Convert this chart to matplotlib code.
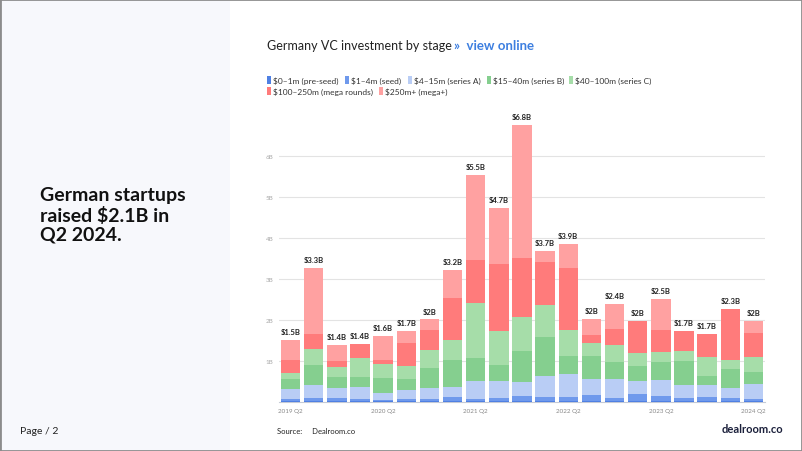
import numpy as np
import matplotlib.pyplot as plt
from matplotlib.patches import Rectangle

# quarters 2019 Q2 .. 2024 Q2
quarters = ['2019 Q2', '2019 Q3', '2019 Q4', '2020 Q1', '2020 Q2', '2020 Q3', '2020 Q4',
            '2021 Q1', '2021 Q2', '2021 Q3', '2021 Q4', '2022 Q1', '2022 Q2', '2022 Q3',
            '2022 Q4', '2023 Q1', '2023 Q2', '2023 Q3', '2023 Q4', '2024 Q1', '2024 Q2']
tick_idx = [0, 4, 8, 12, 16, 20]

# values in $B per stage
pre_seed = [0.02, 0.02, 0.02, 0.02, 0.02, 0.02, 0.02, 0.02, 0.02, 0.02, 0.03,
            0.02, 0.02, 0.03, 0.02, 0.03, 0.03, 0.02, 0.02, 0.02, 0.02]
seed = [0.05, 0.07, 0.08, 0.05, 0.04, 0.05, 0.06, 0.10, 0.06, 0.07, 0.11,
        0.09, 0.10, 0.13, 0.08, 0.16, 0.12, 0.07, 0.09, 0.07, 0.05]
series_a = [0.25, 0.33, 0.24, 0.29, 0.16, 0.23, 0.26, 0.25, 0.42, 0.41, 0.35,
            0.53, 0.57, 0.40, 0.46, 0.33, 0.39, 0.33, 0.30, 0.26, 0.38]
series_b = [0.24, 0.47, 0.26, 0.25, 0.37, 0.26, 0.49, 0.66, 0.57, 0.39, 0.76,
            0.94, 0.44, 0.55, 0.41, 0.35, 0.44, 0.59, 0.23, 0.45, 0.29]
series_c = [0.15, 0.41, 0.25, 0.45, 0.34, 0.31, 0.43, 0.47, 1.34, 0.83, 0.82,
            0.79, 0.62, 0.32, 0.43, 0.33, 0.23, 0.24, 0.46, 0.23, 0.36]
mega = [0.32, 0.35, 0.14, 0.35, 0.10, 0.56, 0.49, 1.03, 1.05, 1.65, 1.45,
        1.04, 1.52, 0.20, 0.39, 0.77, 0.55, 0.47, 0.56, 1.23, 0.59]
mega_plus = [0.49, 1.61, 0.40, 0.00, 0.58, 0.29, 0.26, 0.69, 2.07, 1.35, 3.24,
             0.26, 0.58, 0.40, 0.59, 0.00, 0.74, 0.00, 0.00, 0.00, 0.29]
totals_lbl = ['$1.5B', '$3.3B', '$1.4B', '$1.4B', '$1.6B', '$1.7B', '$2B', '$3.2B',
              '$5.5B', '$4.7B', '$6.8B', '$3.7B', '$3.9B', '$2B', '$2.4B', '$2B',
              '$2.5B', '$1.7B', '$1.7B', '$2.3B', '$2B']

stage_names = ['$0–1m (pre-seed)', '$1–4m (seed)', '$4–15m (series A)', '$15–40m (series B)',
               '$40–100m (series C)', '$100–250m (mega rounds)', '$250m+ (mega+)']
stage_colors = ['#4f80e3', '#6f99ec', '#b9cdf5', '#85cf8f', '#a6dda9', '#ff7b7b', '#ffa1a1']
stages = [pre_seed, seed, series_a, series_b, series_c, mega, mega_plus]

W, H = 802, 452
fig = plt.figure(figsize=(W / 100, H / 100), dpi=100)
fig.patch.set_facecolor('white')

# left panel + frame
fig.patches.append(Rectangle((0, 0), 230 / W, 1, transform=fig.transFigure,
                             facecolor='#f7f8fc', edgecolor='none', zorder=0))
fig.patches.append(Rectangle((0, 0), 1, 1, transform=fig.transFigure, fill=False,
                             edgecolor='#8c8c8c', linewidth=2, zorder=10))

font = 'Lato'

def fx(px):
    return px / W

def fy(py):
    return 1 - py / H

fig.text(fx(40), fy(187), 'German startups\nraised $2.1B in\nQ2 2024.', fontsize=14,
         fontweight='bold', family=font, color='#111111', va='top', ha='left', linespacing=1.17)
fig.text(fx(20), fy(432), 'Page / 2', fontsize=7.5, family=font, color='#222222', va='center')
fig.text(fx(277), fy(432), 'Source:     Dealroom.co', fontsize=5.5, family=font,
         color='#222222', va='center')
fig.text(fx(783), fy(430), 'dealroom.co', fontsize=8, family=font, fontweight='bold',
         color='#1a1f3a', va='center', ha='right')

# title
fig.text(fx(267), fy(46), 'Germany VC investment by stage', fontsize=9, family=font,
         color='#222222', va='center')
fig.text(fx(454), fy(46), '»  view online', fontsize=9.5, family=font, fontweight='bold',
         color='#3d7fe0', va='center')

# legend
leg_pos = [(267, 81), (345, 81), (408, 81), (487, 81), (569, 81), (267, 92), (379, 92)]
for (px, py), name, c in zip(leg_pos, stage_names, stage_colors):
    fig.patches.append(Rectangle((fx(px), fy(py + 4)), 4 / W, 8 / H,
                                 transform=fig.transFigure, facecolor=c, edgecolor='none'))
    fig.text(fx(px + 6), fy(py), name, fontsize=6, family=font, color='#333333', va='center')

# chart
ymax = 7.2
ax = fig.add_axes([fx(279), fy(403), fx(765) - fx(279), ymax * 41.05 / H])
x = np.arange(len(quarters))
bottom = np.zeros(len(quarters))
for vals, c in zip(stages, stage_colors):
    ax.bar(x, vals, width=0.84, bottom=bottom, color=c, edgecolor='none', zorder=3)
    bottom += np.array(vals)

for xi, tot, lbl in zip(x, bottom, totals_lbl):
    ax.text(xi, tot + 0.12, lbl, ha='center', va='bottom', fontsize=5.5, fontweight='bold',
            family=font, color='#222222')

ax.set_xlim(-0.5, len(quarters) - 0.5)
ax.set_ylim(0, ymax)
ax.set_yticks([1, 2, 3, 4, 5, 6])
ax.set_yticklabels(['1B', '2B', '3B', '4B', '5B', '6B'], fontsize=4.5, color='#aaaaaa', family=font)
ax.set_xticks(tick_idx)
ax.set_xticklabels([quarters[i] for i in tick_idx], fontsize=4.5, color='#888888', family=font)
ax.tick_params(axis='both', length=0, pad=4)
ax.grid(axis='y', color='#e3e3e3', linewidth=0.8, zorder=0)
for s in ['top', 'right', 'left']:
    ax.spines[s].set_visible(False)
ax.spines['bottom'].set_color('#c5cad6')
ax.spines['bottom'].set_linewidth(0.8)
ax.set_facecolor('none')

plt.savefig('out.png', dpi=100)
